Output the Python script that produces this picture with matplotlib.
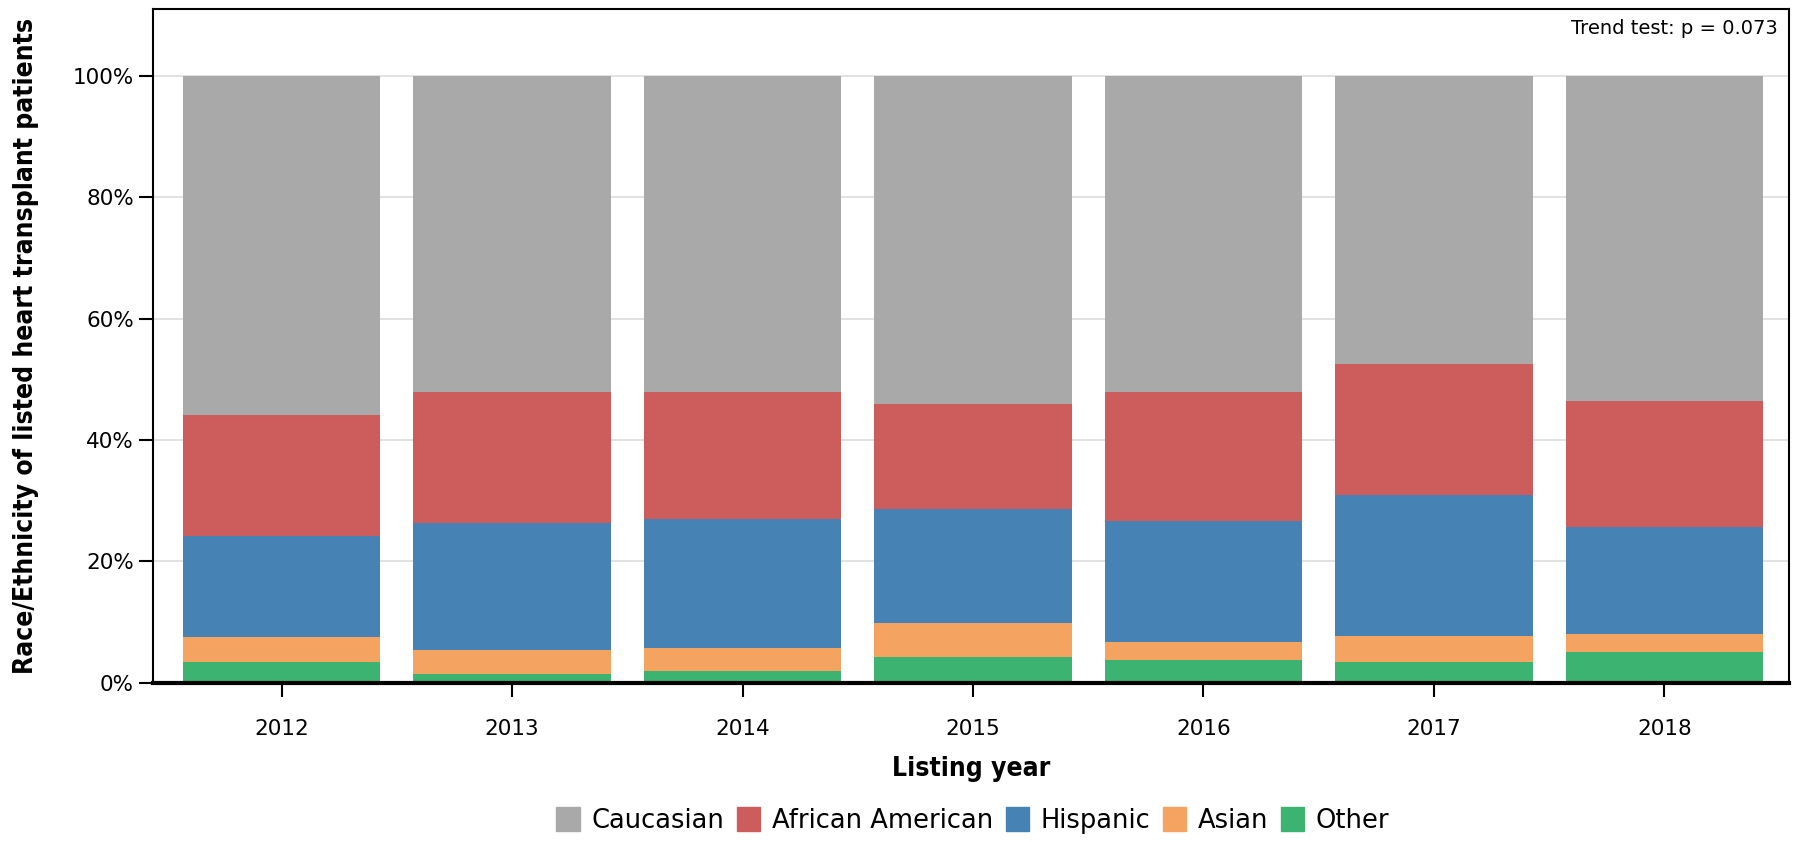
import numpy as np
import matplotlib
matplotlib.use("Agg")
import matplotlib.pyplot as plt
from matplotlib.patches import Patch
from matplotlib import font_manager

# données (en %)
years = ["2012", "2013", "2014", "2015", "2016", "2017", "2018"]
other = [3.4, 1.4, 2.0, 4.2, 3.7, 3.5, 5.1]
asian = [4.2, 4.0, 3.7, 5.7, 3.1, 4.2, 3.0]
hispanic = [16.6, 20.9, 21.3, 18.8, 19.9, 23.3, 17.6]
african_american = [20.0, 21.7, 21.0, 17.2, 21.3, 21.6, 20.8]
groups = ["Caucasian", "African American", "Hispanic", "Asian", "Other"]
colors = ["darkgray", "indianred", "steelblue", "sandybrown", "mediumseagreen"]

caucasian = [100 - o - a - h - b for o, a, h, b in zip(other, asian, hispanic, african_american)]

plt.rcParams['font.family'] = ['DejaVu Sans']

fig = plt.figure(figsize=(18, 8.42), dpi=100)
ax = fig.add_axes([0.0848, 0.189, 0.909, 0.80])

x = np.arange(len(years))
w = 0.857
series = [other, asian, hispanic, african_american, caucasian]
series_col = ["mediumseagreen", "sandybrown", "steelblue", "indianred", "darkgray"]
bottom = np.zeros(len(years))
for vals, c in zip(series, series_col):
    ax.bar(x, vals, w, bottom=bottom, color=c, zorder=2, linewidth=0)
    bottom += np.array(vals)

ax.set_ylim(0, 111)
ax.set_xlim(-0.56, 6.54)
ax.set_yticks([0, 20, 40, 60, 80, 100])
ax.set_yticklabels(["0%", "20%", "40%", "60%", "80%", "100%"], fontsize=15.5)
ax.set_xticks(x)
ax.set_xticklabels(years, fontsize=15.5)
ax.tick_params(axis='both', length=10, width=1.5)
ax.tick_params(axis='x', pad=16)
ax.grid(axis='y', color='#dddddd', linewidth=1.2, zorder=0)

for s in ['top', 'right', 'left']:
    ax.spines[s].set_linewidth(1.5)
ax.spines['bottom'].set_linewidth(3)

cond = font_manager.FontProperties(family='DejaVu Sans', stretch='condensed', weight='bold', size=19)
ax.set_ylabel("Race/Ethnicity of listed heart transplant patients",
              fontproperties=cond, labelpad=24)
cond2 = cond.copy()
cond2.set_size(19)
ax.set_xlabel("Listing year", fontproperties=cond2, labelpad=12)

ax.text(0.993, 0.985, "Trend test: p = 0.073", transform=ax.transAxes,
        ha='right', va='top', fontsize=14)

handles = [Patch(facecolor=c, edgecolor=c) for c in colors]
fig.legend(handles, groups, loc='center', bbox_to_anchor=(0.5405, 0.026), ncol=5,
           frameon=False, fontsize=18.5, handlelength=0.9, handleheight=1.1,
           columnspacing=0.5, handletextpad=0.45)

plt.savefig("out.png", dpi=100)
